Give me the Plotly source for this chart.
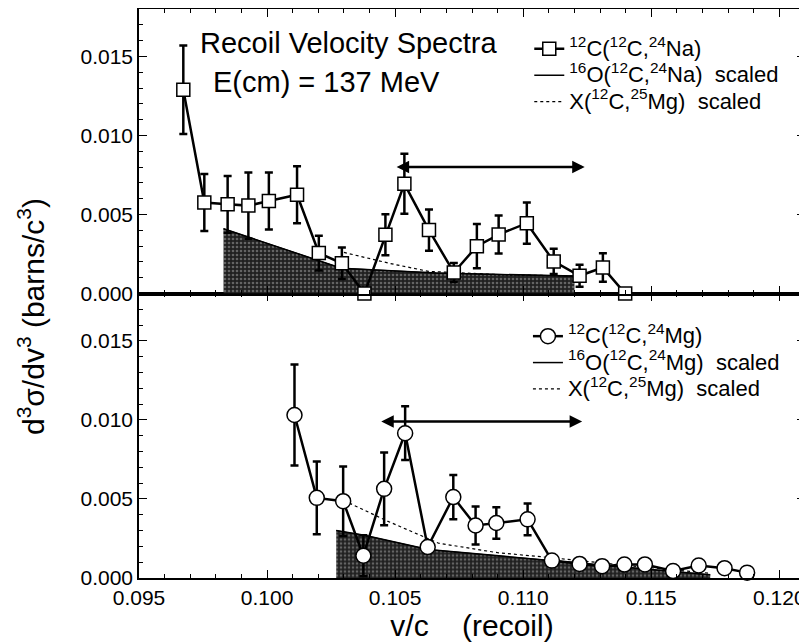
import plotly.graph_objects as go

# ---------------- data ----------------
# upper panel: 12C(12C,24Na)
na_x = [0.09673, 0.09755, 0.09846, 0.09927, 0.10007, 0.10117, 0.10202, 0.10292, 0.10380, 0.10462,
        0.10536, 0.10632, 0.10729, 0.10819, 0.10904, 0.11014, 0.11119, 0.11220, 0.11311, 0.11398]
na_y = [0.01289, 0.00576, 0.00564, 0.00556, 0.00585, 0.00625, 0.00256, 0.00191, 0.00000, 0.00372,
        0.00694, 0.00401, 0.00133, 0.00299, 0.00373, 0.00445, 0.00203, 0.00112, 0.00164, 0.00000]
na_err = [0.0028, 0.0018, 0.0018, 0.0021, 0.0018, 0.0018, 0.0011, 0.0010, 0.0, 0.0013,
          0.0019, 0.0013, 0.0006, 0.0014, 0.0012, 0.0013, 0.0008, 0.0007, 0.0009, 0.0]
# 16O(12C,24Na) scaled (shaded)
na_o16_x = [0.0983, 0.1029, 0.1066, 0.1090, 0.1120]
na_o16_y = [0.0041, 0.0016, 0.0013, 0.0012, 0.0011]
# X(12C,25Mg) scaled (dotted)
na_mg25_x = [0.1030, 0.1048, 0.1063, 0.1090, 0.1120]
na_mg25_y = [0.0026, 0.0019, 0.0014, 0.0012, 0.0011]

# lower panel: 12C(12C,24Mg)
mg_x = [0.10107, 0.10194, 0.10297, 0.10376, 0.10457, 0.10539, 0.10627, 0.10727, 0.10814, 0.10895,
        0.11017, 0.11112, 0.11220, 0.11308, 0.11395, 0.11475, 0.11585, 0.11685, 0.11786, 0.11874]
mg_y = [0.01031, 0.00507, 0.00486, 0.00141, 0.00564, 0.00916, 0.00196, 0.00512, 0.00332, 0.00348,
        0.00371, 0.00110, 0.00089, 0.00075, 0.00085, 0.00086, 0.00044, 0.00079, 0.00062, 0.00034]
mg_err = [0.0032, 0.0023, 0.0022, 0.0013, 0.0023, 0.0017, 0.0004, 0.0014, 0.0012, 0.0010,
          0.0010, 0.0003, 0.0003, 0.0002, 0.0002, 0.0002, 0.0002, 0.0002, 0.0002, 0.0002]
mg_o16_x = [0.1027, 0.1038, 0.1063, 0.1090, 0.1111, 0.1140, 0.1173]
mg_o16_y = [0.0030, 0.0027, 0.0018, 0.0014, 0.0011, 0.0007, 0.0002]
mg_mg25_x = [0.1030, 0.1047, 0.1067, 0.1090, 0.1110, 0.1140, 0.1173]
mg_mg25_y = [0.0049, 0.0036, 0.0022, 0.0016, 0.0013, 0.0008, 0.0003]

# double arrows (x_start, x_end, y)
arrow_top = [0.1050, 0.1124, 0.0080]
arrow_bot = [0.1044, 0.1123, 0.0099]

x_ticks = [0.095, 0.100, 0.105, 0.110, 0.115, 0.120]
y_ticks = [0.000, 0.005, 0.010, 0.015]

FONT = "Liberation Sans"
LEG = "<span style='font-size:22px'>%s</span>"

fig = go.Figure()

shade = dict(shape='.', bgcolor='#202020', fgcolor='#a8a8a8', size=4, solidity=0.35)

# ---- upper panel ----
fig.add_trace(go.Scatter(x=na_o16_x, y=na_o16_y, mode='lines', fill='tozeroy',
                         fillcolor='#303030', fillpattern=shade,
                         line=dict(color='black', width=1), showlegend=False,
                         xaxis='x2', yaxis='y2'))
fig.add_trace(go.Scatter(x=na_o16_x, y=na_o16_y, mode='lines',
                         line=dict(color='black', width=1.5),
                         name=LEG % "<sup>16</sup>O(<sup>12</sup>C,<sup>24</sup>Na)  scaled",
                         legend='legend', legendrank=2, xaxis='x2', yaxis='y2'))
fig.add_trace(go.Scatter(x=na_mg25_x, y=na_mg25_y, mode='lines',
                         line=dict(color='black', width=1.2, dash='dot'),
                         name=LEG % "X(<sup>12</sup>C,<sup>25</sup>Mg)  scaled",
                         legend='legend', legendrank=3, xaxis='x2', yaxis='y2'))
fig.add_trace(go.Scatter(x=na_x, y=na_y, mode='lines+markers',
                         line=dict(color='black', width=2.5),
                         marker=dict(symbol='square', size=13, color='white',
                                     line=dict(color='black', width=1.5)),
                         error_y=dict(type='data', array=na_err, symmetric=True,
                                      color='black', thickness=2.5, width=4),
                         cliponaxis=False,
                         name=LEG % "<sup>12</sup>C(<sup>12</sup>C,<sup>24</sup>Na)",
                         legend='legend', legendrank=1, xaxis='x2', yaxis='y2'))

# ---- lower panel ----
fig.add_trace(go.Scatter(x=mg_o16_x, y=mg_o16_y, mode='lines', fill='tozeroy',
                         fillcolor='#303030', fillpattern=shade,
                         line=dict(color='black', width=1), showlegend=False,
                         xaxis='x', yaxis='y'))
fig.add_trace(go.Scatter(x=mg_o16_x, y=mg_o16_y, mode='lines',
                         line=dict(color='black', width=1.5),
                         name=LEG % "<sup>16</sup>O(<sup>12</sup>C,<sup>24</sup>Mg)  scaled",
                         legend='legend2', legendrank=2, xaxis='x', yaxis='y'))
fig.add_trace(go.Scatter(x=mg_mg25_x, y=mg_mg25_y, mode='lines',
                         line=dict(color='black', width=1.2, dash='dot'),
                         name=LEG % "X(<sup>12</sup>C,<sup>25</sup>Mg)  scaled",
                         legend='legend2', legendrank=3, xaxis='x', yaxis='y'))
fig.add_trace(go.Scatter(x=mg_x, y=mg_y, mode='lines+markers',
                         line=dict(color='black', width=2.5),
                         marker=dict(symbol='circle', size=15, color='white',
                                     line=dict(color='black', width=1.5)),
                         error_y=dict(type='data', array=mg_err, symmetric=True,
                                      color='black', thickness=2.5, width=4),
                         cliponaxis=False,
                         name=LEG % "<sup>12</sup>C(<sup>12</sup>C,<sup>24</sup>Mg)",
                         legend='legend2', legendrank=1, xaxis='x', yaxis='y'))

axis_common = dict(showline=True, linecolor='black', linewidth=1.5, mirror='ticks',
                   ticks='inside', ticklen=8, tickwidth=1.2, tickcolor='black',
                   showgrid=False, zeroline=False, automargin=False,
                   tickfont=dict(family=FONT, size=21, color='black'))
minor = dict(ticks='inside', ticklen=4, tickwidth=1, tickcolor='black', dtick=0.001, showgrid=False)

# the page body adds an 8 px offset, so the figure is 8 px smaller than the window
fig.update_layout(
    width=799, height=635,
    margin=dict(l=131, r=2, t=1, b=65),
    paper_bgcolor='white', plot_bgcolor='white',
    font=dict(family=FONT, color='black'),
    xaxis=dict(domain=[0, 1], anchor='y', range=[0.095, 0.121], tickvals=x_ticks,
               tickformat='.3f', minor=dict(minor, tick0=0.095), **axis_common,
               title=dict(text="v/c\u00a0\u00a0\u00a0\u00a0(recoil)",
                          font=dict(family=FONT, size=30, color='black'), standoff=4)),
    yaxis=dict(domain=[0, 0.5], anchor='x', range=[0, 0.018], tickvals=y_ticks,
               tickformat='.3f', minor=dict(minor, tick0=0), **axis_common),
    xaxis2=dict(domain=[0, 1], anchor='y2', range=[0.095, 0.121], matches='x',
                tickvals=x_ticks, showticklabels=False,
                minor=dict(minor, tick0=0.095), **axis_common),
    yaxis2=dict(domain=[0.5, 1], anchor='x2', range=[0, 0.018], tickvals=y_ticks,
                tickformat='.3f', minor=dict(minor, tick0=0), **axis_common),
    legend=dict(x=0.586, y=0.962, xanchor='left', yanchor='top', bgcolor='rgba(0,0,0,0)',
                font=dict(family=FONT, size=18, color='black'), itemwidth=30,
                traceorder='normal'),
    legend2=dict(x=0.584, y=0.457, xanchor='left', yanchor='top', bgcolor='rgba(0,0,0,0)',
                 font=dict(family=FONT, size=18, color='black'), itemwidth=30,
                 traceorder='normal'),
    showlegend=True,
)

ann = []
ann.append(dict(text="Recoil Velocity Spectra", xref='paper', yref='paper', x=0.315, y=0.940,
                xanchor='center', yanchor='middle',
                showarrow=False, font=dict(family=FONT, size=29, color='black')))
ann.append(dict(text="E(cm) = 137 MeV", xref='paper', yref='paper', x=0.282, y=0.872,
                xanchor='center', yanchor='middle',
                showarrow=False, font=dict(family=FONT, size=29, color='black')))
ann.append(dict(text="d<sup>3</sup>σ/dv<sup>3</sup> (barns/c<sup>3</sup>)", xref='paper',
                yref='paper', x=-0.161, y=0.46, textangle=-90, showarrow=False,
                xanchor='center', yanchor='middle',
                font=dict(family=FONT, size=30, color='black')))
for (x0, x1, yv), xr, yr in [(arrow_top, 'x2', 'y2'), (arrow_bot, 'x', 'y')]:
    ann.append(dict(text='', x=x1, y=yv, ax=x0, ay=yv, xref=xr, yref=yr, axref=xr, ayref=yr,
                    showarrow=True, arrowhead=2, arrowside='end+start', arrowsize=1,
                    arrowwidth=2.5, arrowcolor='black'))
fig.update_layout(annotations=ann)

fig.write_html("out.html")
